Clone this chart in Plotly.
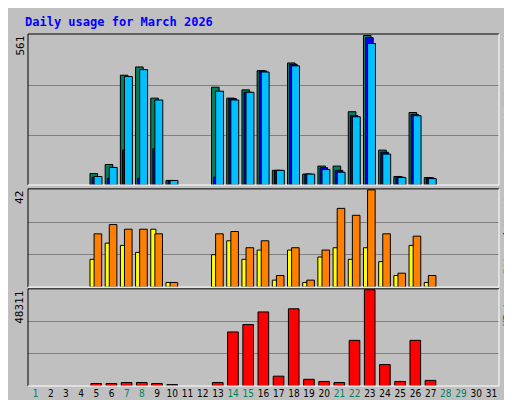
import plotly.graph_objects as go

days = list(range(1, 32))
weekend = [1, 7, 8, 14, 15, 21, 22, 28, 29]

hits = [0, 0, 0, 0, 43, 77, 412, 443, 326, 17, 0, 0, 367, 326, 357, 429, 55, 458, 41, 71, 71, 275, 561, 131, 32, 272, 28, 0, 0, 0, 0]
files = [0, 0, 0, 0, 29, 25, 131, 25, 136, 17, 0, 0, 29, 324, 348, 428, 55, 453, 41, 65, 55, 260, 553, 123, 30, 264, 27, 0, 0, 0, 0]
pages = [0, 0, 0, 0, 32, 66, 407, 433, 319, 17, 0, 0, 352, 319, 348, 424, 55, 447, 41, 58, 48, 256, 531, 116, 28, 260, 24, 0, 0, 0, 0]
visits = [0, 0, 0, 0, 12, 19, 18, 15, 25, 2, 0, 0, 14, 20, 12, 16, 3, 16, 2, 13, 17, 12, 17, 11, 5, 18, 2, 0, 0, 0, 0]
sites = [0, 0, 0, 0, 23, 27, 25, 25, 23, 2, 0, 0, 23, 24, 17, 20, 5, 17, 3, 16, 34, 31, 42, 23, 6, 22, 5, 0, 0, 0, 0]
kbytes = [0, 0, 0, 0, 1234, 1234, 1763, 1763, 1234, 705, 0, 0, 1763, 27153, 30855, 37203, 4937, 38790, 3350, 2292, 1763, 22921, 48311, 10755, 2292, 22921, 2821, 0, 0, 0, 0]

bg = "#c0c0c0"
line = dict(color="black", width=1)

def nz(v):
    # days with no traffic get no bar at all
    return [x if x else None for x in v]

fig = go.Figure()
fig.add_bar(x=days, y=nz(hits), offset=-0.42, width=0.5, marker=dict(color="#00805c", line=line), xaxis="x", yaxis="y3")
fig.add_bar(x=days, y=nz(files), offset=-0.28, width=0.5, marker=dict(color="#0000ff", line=line), xaxis="x", yaxis="y3")
fig.add_bar(x=days, y=nz(pages), offset=-0.15, width=0.52, marker=dict(color="#00c0ff", line=line), xaxis="x", yaxis="y3")
fig.add_bar(x=days, y=nz(visits), offset=-0.42, width=0.34, marker=dict(color="#ffff00", line=line), xaxis="x", yaxis="y2")
fig.add_bar(x=days, y=nz(sites), offset=-0.15, width=0.5, marker=dict(color="#ff8000", line=line), xaxis="x", yaxis="y2")
fig.add_bar(x=days, y=nz(kbytes), offset=-0.36, width=0.7, marker=dict(color="#ff0000", line=line), xaxis="x", yaxis="y")

def yax(mx, dom):
    return dict(domain=dom, range=[0, mx * 1.01], tickvals=[mx / 3, mx * 2 / 3], showticklabels=False,
                showgrid=True, gridcolor="#808080", gridwidth=1, zeroline=False, fixedrange=True,
                automargin=False)

tick_text = ['<span style="color:%s">%d</span>' % ("#00805c" if d in weekend else "black", d) for d in days]

fig.update_layout(
    width=512, height=400, showlegend=False, barmode="overlay",
    paper_bgcolor=bg, plot_bgcolor=bg,
    margin=dict(l=20, r=21, t=26, b=22, autoexpand=False),
    font=dict(family="DejaVu Sans Mono", size=11, color="black"),
    xaxis=dict(range=[0.5, 31.5], tickvals=days, ticktext=tick_text, ticks="", showgrid=False,
               zeroline=False, fixedrange=True, tickangle=0, automargin=False,
               tickfont=dict(size=10, family="DejaVu Sans Condensed")),
    yaxis=yax(max(kbytes), [0, 0.276]),
    yaxis2=yax(max(sites), [0.281, 0.560]),
    yaxis3=yax(max(hits), [0.571, 1]),
)

for y0, y1 in [(0, 0.276), (0.281, 0.560), (0.571, 1)]:
    fig.add_shape(type="line", xref="paper", yref="paper", x0=0, x1=1, y0=y1, y1=y1, line=dict(color="black", width=1))
    fig.add_shape(type="line", xref="paper", yref="paper", x0=0, x1=0, y0=y0, y1=y1, line=dict(color="black", width=1))
    fig.add_shape(type="line", xref="paper", yref="paper", x0=1, x1=1, y0=y0, y1=y1, line=dict(color="white", width=1))
    fig.add_shape(type="line", xref="paper", yref="paper", x0=0, x1=1, y0=y0, y1=y0, line=dict(color="white", width=1))

fig.add_annotation(text="<b>Daily usage for March 2026</b>", x=-0.01, y=1.0, xref="paper", yref="paper",
                   xanchor="left", yanchor="bottom", yshift=3, showarrow=False,
                   font=dict(color="#0000ff", size=12, family="DejaVu Sans Mono"))

for val, top in [(max(hits), 1), (max(sites), 0.560), (max(kbytes), 0.276)]:
    fig.add_annotation(text=str(val), x=0, y=top, xref="paper", yref="paper", textangle=-90,
                       xanchor="right", yanchor="top", showarrow=False, font=dict(size=11))

right_labels = [
    ('<span style="color:#00c0ff">Pages</span> / <span style="color:#0000ff">Files</span> / <span style="color:#00805c">Hits</span>', 1),
    ('<span style="color:#ff8000">Sites</span> / <span style="color:#c8c800">Visits</span>', 0.560),
    ('<span style="color:#ff0000">KBytes</span>', 0.276),
]
for txt, top in right_labels:
    fig.add_annotation(text=txt, x=1, y=top, xref="paper", yref="paper", textangle=-90, xshift=1,
                       xanchor="left", yanchor="top", showarrow=False, font=dict(size=10))

fig.write_html("out.html")
